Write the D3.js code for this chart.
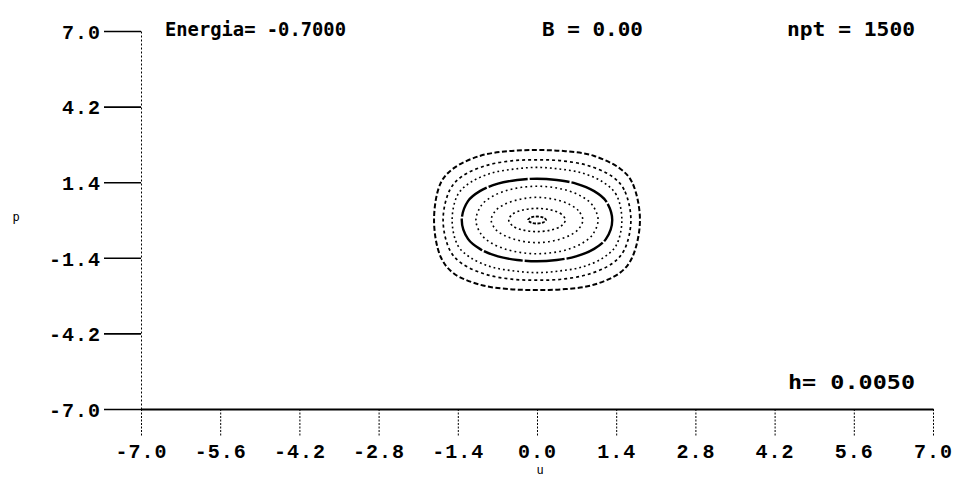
<!DOCTYPE html>
<html>
<head>
<meta charset="utf-8">
<script src="https://cdn.jsdelivr.net/npm/d3@7"></script>
<style>
  html, body { margin: 0; padding: 0; background: #fff; }
  svg { display: block; }
  .lbl { font-family: "Liberation Mono", "DejaVu Sans Mono", monospace; font-weight: bold; fill: #000; }
  .hdr { font-family: "DejaVu Sans Mono", monospace; font-weight: bold; fill: #000; }
</style>
</head>
<body>
<svg id="chart" width="955" height="477"></svg>
<script>
// Axis ticks
const uTicks = [-7.0, -5.6, -4.2, -2.8, -1.4, 0.0, 1.4, 2.8, 4.2, 5.6, 7.0];
const pTicks = [-7.0, -4.2, -1.4, 1.4, 4.2, 7.0];

// Run parameters shown in the header
const energia = -0.7;
const campoB = 0.0;
const npt = 1500;
const passo = 0.005;

// Poincaré-section orbits in the (u, p) plane, outermost first
const orbit1 = [[1.82,0],[1.68,1.40],[1.47,1.90],[1.00,2.38],[0.50,2.55],[0,2.59],
  [-0.50,2.55],[-1.00,2.38],[-1.47,1.92],[-1.70,1.38],[-1.82,0],[-1.70,-1.38],
  [-1.47,-1.98],[-1.00,-2.40],[-0.50,-2.56],[0,-2.59],[0.50,-2.56],[1.00,-2.40],
  [1.47,-1.95],[1.68,-1.40]];
const orbit2 = [[1.66,0],[1.54,1.12],[1.33,1.61],[0.91,2.01],[0.45,2.19],[0,2.23],
  [-0.45,2.19],[-0.91,2.01],[-1.33,1.61],[-1.54,1.12],[-1.66,0],[-1.54,-1.12],
  [-1.33,-1.61],[-0.91,-2.01],[-0.45,-2.19],[0,-2.23],[0.45,-2.19],[0.91,-2.01],
  [1.33,-1.61],[1.54,-1.12]];
const orbit3 = [[1.50,0],[1.40,0.94],[1.17,1.40],[0.80,1.74],[0.39,1.89],[0,1.95],
  [-0.39,1.89],[-0.80,1.74],[-1.17,1.40],[-1.40,0.94],[-1.50,0],[-1.40,-0.94],
  [-1.17,-1.40],[-0.80,-1.74],[-0.39,-1.89],[0,-1.95],[0.39,-1.89],[0.80,-1.74],
  [1.17,-1.40],[1.40,-0.94]];
const orbit4 = [[1.33,0],[1.22,0.70],[1.01,1.07],[0.69,1.35],[0.35,1.48],[0,1.53],
  [-0.35,1.48],[-0.69,1.35],[-1.01,1.07],[-1.22,0.70],[-1.33,0],[-1.22,-0.70],
  [-1.01,-1.07],[-0.69,-1.35],[-0.35,-1.48],[0,-1.53],[0.35,-1.48],[0.69,-1.35],
  [1.01,-1.07],[1.22,-0.70]];
const orbit5 = [[1.08,0],[0.98,0.55],[0.80,0.86],[0.54,1.09],[0.27,1.21],[0,1.25],
  [-0.27,1.21],[-0.54,1.09],[-0.80,0.86],[-0.98,0.55],[-1.08,0],[-0.98,-0.55],
  [-0.80,-0.86],[-0.54,-1.09],[-0.27,-1.21],[0,-1.25],[0.27,-1.21],[0.54,-1.09],
  [0.80,-0.86],[0.98,-0.55]];
const orbit6 = [[0.81,0],[0.73,0.35],[0.58,0.57],[0.39,0.72],[0.19,0.81],[0,0.84],
  [-0.19,0.81],[-0.39,0.72],[-0.58,0.57],[-0.73,0.35],[-0.81,0],[-0.73,-0.35],
  [-0.58,-0.57],[-0.39,-0.72],[-0.19,-0.81],[0,-0.84],[0.19,-0.81],[0.39,-0.72],
  [0.58,-0.57],[0.73,-0.35]];
const orbit7 = [[0.50,0],[0.43,0.22],[0.25,0.37],[0,0.43],[-0.25,0.37],[-0.43,0.22],
  [-0.50,0],[-0.43,-0.22],[-0.25,-0.37],[0,-0.43],[0.25,-0.37],[0.43,-0.22]];
const orbit8 = [[0.16,0],[0.11,0.09],[0,0.13],[-0.11,0.09],[-0.16,0],[-0.11,-0.09],
  [0,-0.13],[0.11,-0.09]];

const orbits = [orbit1, orbit2, orbit3, orbit4, orbit5, orbit6, orbit7, orbit8];

// Stroke look of each orbit (dashes / dots of the integrated points)
const orbitLook = [
  { w: 2.0, dash: "5 2.5" },
  { w: 1.7, dash: "3 3" },
  { w: 1.6, dash: "1.8 3" },
  { w: 2.4, dash: "40 2" },
  { w: 1.6, dash: "1.8 3.2" },
  { w: 1.6, dash: "1.8 3.2" },
  { w: 1.6, dash: "2 2.8" },
  { w: 1.8, dash: "3 1.5" }
];

const svg = d3.select("#chart");
const fmt = v => v.toFixed(1);

const x = d3.scaleLinear().domain([-7, 7]).range([141, 933]);
const y = d3.scaleLinear().domain([-7, 7]).range([409, 31]);

// Vertical axis: dotted spine, solid ticks pointing left
const gy = svg.append("g")
  .attr("transform", `translate(${x(-7)},0)`)
  .call(d3.axisLeft(y).tickValues(pTicks).tickFormat(fmt)
    .tickSizeInner(37).tickSizeOuter(0).tickPadding(3));
gy.select(".domain").attr("stroke", "#000").attr("stroke-width", 1)
  .attr("stroke-dasharray", "2 2");
gy.selectAll(".tick line").attr("stroke", "#000").attr("stroke-width", 1.6);
gy.selectAll(".tick text").attr("class", "lbl")
  .style("font-size", "20px").style("letter-spacing", "1px").attr("dy", "0.36em");

// Horizontal axis: solid spine, dotted ticks pointing down
const gx = svg.append("g")
  .attr("transform", `translate(0,${y(-7)})`)
  .call(d3.axisBottom(x).tickValues(uTicks).tickFormat(fmt)
    .tickSizeInner(27).tickSizeOuter(0).tickPadding(8));
gx.select(".domain").attr("stroke", "#000").attr("stroke-width", 2.2);
gx.selectAll(".tick line").attr("stroke", "#000").attr("stroke-width", 1)
  .attr("stroke-dasharray", "2 1.5");
gx.selectAll(".tick text").attr("class", "lbl")
  .style("font-size", "20px").style("letter-spacing", "1px");
gy.raise();

// Orbits
const line = d3.line().x(d => x(d[0])).y(d => y(d[1])).curve(d3.curveCatmullRomClosed.alpha(0.5));
svg.append("g").selectAll("path").data(orbits).join("path")
  .attr("d", line)
  .attr("fill", "none")
  .attr("stroke", "#000")
  .attr("stroke-width", (d, i) => orbitLook[i].w)
  .attr("stroke-dasharray", (d, i) => orbitLook[i].dash);

// Header and run info
const header = [
  { t: `Energia= ${energia.toFixed(4)}`, x: 165, y: 36, w: 181 },
  { t: `B = ${campoB.toFixed(2)}`, x: 542, y: 36, w: 101 },
  { t: `npt = ${npt}`, x: 787, y: 36, w: 128 },
  { t: `h= ${passo.toFixed(4)}`, x: 788, y: 389, w: 127 }
];
svg.append("g").selectAll("text").data(header).join("text")
  .attr("class", "hdr")
  .attr("x", d => d.x).attr("y", d => d.y)
  .attr("textLength", d => d.w).attr("lengthAdjust", "spacingAndGlyphs")
  .style("font-size", "19px")
  .text(d => d.t);

// Axis titles
svg.append("text").attr("x", 16).attr("y", 221)
  .attr("text-anchor", "middle").attr("fill", "#000")
  .style("font-family", "DejaVu Sans Mono, monospace").style("font-size", "12px")
  .text("p");
svg.append("text").attr("x", x(0) + 3).attr("y", 474)
  .attr("text-anchor", "middle").attr("fill", "#000")
  .style("font-family", "DejaVu Sans Mono, monospace").style("font-size", "12px")
  .text("u");
</script>
</body>
</html>
